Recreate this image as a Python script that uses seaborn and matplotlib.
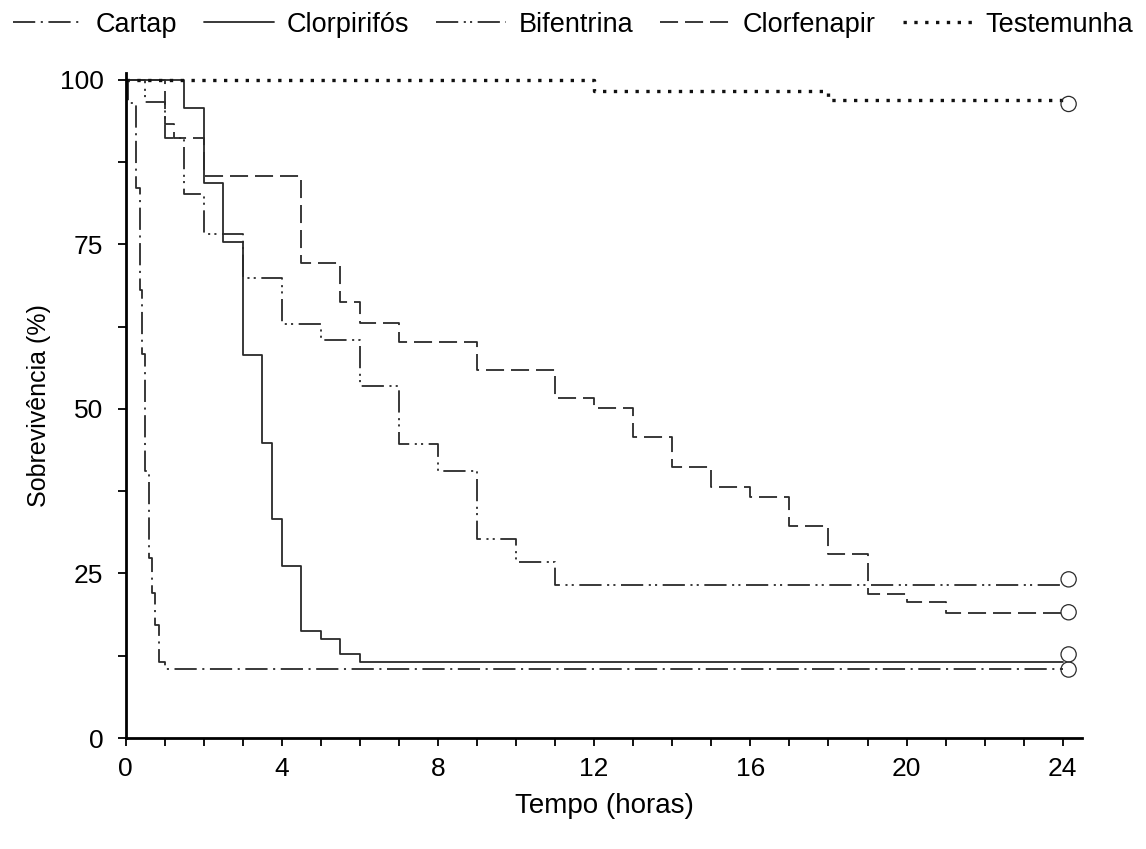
import numpy as np
import pandas as pd
import seaborn as sns
import matplotlib.pyplot as plt
from matplotlib.ticker import MultipleLocator

# Kaplan-Meier steps (time in hours, survival in %)
cartap_t = [0, 0.07, 0.27, 0.37, 0.43, 0.5, 0.6, 0.67, 0.75, 0.85, 1.0]
cartap_s = [100, 96.5, 83.5, 68.0, 58.4, 40.5, 27.3, 22.0, 17.2, 11.6, 10.5]

clorpirifos_t = [0, 1.5, 2.0, 2.5, 3.0, 3.5, 3.75, 4.0, 4.5, 5.0, 5.5, 6.0]
clorpirifos_s = [100, 95.7, 84.3, 75.3, 58.1, 44.8, 33.2, 26.2, 16.3, 15.0, 12.7, 11.6]

bifentrina_t = [0, 0.5, 1.0, 1.5, 2.0, 3.0, 4.0, 5.0, 6.0, 7.0, 8.0, 9.0, 10.0, 11.0]
bifentrina_s = [100, 96.6, 91.2, 82.6, 76.6, 69.9, 62.9, 60.5, 53.4, 44.6, 40.6, 30.2, 26.8, 23.3]

clorfenapir_t = [0, 1.0, 1.25, 2.0, 4.5, 5.5, 6.0, 7.0, 9.0, 11.0, 12.0, 13.0, 14.0,
                 15.0, 16.0, 17.0, 18.0, 19.0, 20.0, 21.0]
clorfenapir_s = [100, 93.3, 91.2, 85.3, 72.1, 66.2, 63.1, 60.2, 55.9, 51.6, 50.1, 45.7, 41.2,
                 38.1, 36.6, 32.2, 27.9, 21.9, 20.6, 19.0]

testemunha_t = [0, 12.0, 18.0]
testemunha_s = [100, 98.3, 96.9]

labels = ["Cartap", "Clorpirifós", "Bifentrina", "Clorfenapir", "Testemunha"]
# censored (open circle) marks at the end of the study
censor_t = [24.15, 24.15, 24.15, 24.15, 24.15]
censor_s = [10.4, 12.7, 24.1, 19.1, 96.3]
end_time = 24

sns.set_style("ticks")
plt.rcParams["font.family"] = ["Liberation Sans", "DejaVu Sans"]
plt.rcParams["lines.scale_dashes"] = False
plt.rcParams["text.color"] = "black"
plt.rcParams["axes.labelcolor"] = "black"

series = [(cartap_t, cartap_s), (clorpirifos_t, clorpirifos_s),
          (bifentrina_t, bifentrina_s), (clorfenapir_t, clorfenapir_s),
          (testemunha_t, testemunha_s)]
styles = [
    dict(ls=(0, (16, 4, 1.5, 4)), lw=1.3, color="#2a2a2a"),
    dict(ls="-", lw=1.3, color="#2a2a2a"),
    dict(ls=(0, (16, 4, 1.5, 3, 1.5, 4)), lw=1.3, color="#2a2a2a"),
    dict(ls=(0, (13, 5)), lw=1.3, color="#2a2a2a"),
    dict(ls=(0, (2.4, 5.4)), lw=2.4, color="#111111"),
]

fig = plt.figure(figsize=(11.46, 8.49), dpi=100)
ax = fig.add_axes([0.1096, 0.1307, 0.8348, 0.7833])

handles = []
for (t, s), name, st in zip(series, labels, styles):
    df = pd.DataFrame({"Tempo": t + [end_time], "Sobrevivencia": s + [s[-1]]})
    sns.lineplot(data=df, x="Tempo", y="Sobrevivencia", ax=ax, estimator=None,
                 sort=False, drawstyle="steps-post", color=st["color"],
                 linewidth=st["lw"], linestyle=st["ls"], label=name, legend=False)
    handles.append(ax.lines[-1])

cens = pd.DataFrame({"t": censor_t, "s": censor_s})
sns.scatterplot(data=cens, x="t", y="s", ax=ax, marker="o", s=120,
                facecolors="none", edgecolor="#2a2a2a", linewidth=0.9,
                zorder=5, legend=False, clip_on=False)

ax.set_xlim(0, 24.5)
ax.set_ylim(0, 101)
ax.xaxis.set_major_locator(MultipleLocator(4))
ax.xaxis.set_minor_locator(MultipleLocator(1))
ax.yaxis.set_major_locator(MultipleLocator(25))
ax.yaxis.set_minor_locator(MultipleLocator(12.5))
ax.tick_params(which="both", direction="out", length=6, width=1.3,
               colors="black", labelcolor="black")
ax.tick_params(axis="x", labelsize=19, pad=8)
ax.tick_params(axis="y", labelsize=19, pad=10)
sns.despine(ax=ax)
for sp in ["left", "bottom"]:
    ax.spines[sp].set_linewidth(2)
    ax.spines[sp].set_color("black")

ax.set_xlabel("Tempo (horas)", fontsize=20, labelpad=8)
ax.set_ylabel("Sobrevivência (%)", fontsize=18, labelpad=6)

fig.legend(handles, labels, loc="upper center", bbox_to_anchor=(0.5, 1.015), ncol=5,
           frameon=False, fontsize=19.5, handlelength=2.6, handletextpad=0.45,
           columnspacing=1.0)

fig.savefig("out.png", dpi=100)
